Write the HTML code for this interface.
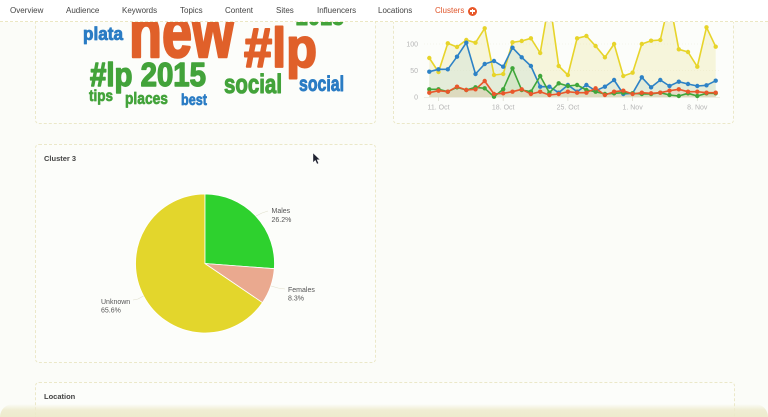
<!DOCTYPE html>
<html><head><meta charset="utf-8">
<style>
*{margin:0;padding:0;box-sizing:border-box}
html,body{width:768px;height:417px;overflow:hidden;background:#fbfcf8;font-family:"Liberation Sans",sans-serif}
#wrap{position:relative;width:768px;height:417px;overflow:hidden;background:#fbfcf8}
.panel{position:absolute;border:1px dashed #ebe8c9;border-radius:4px;background:#fcfdfa}
.nav{position:absolute;left:0;top:0;width:768px;height:22px;background:#fff;border-bottom:1px dashed #ebe7c3;z-index:10}
.nav span{position:absolute;top:6px;font-size:8px;color:#444;white-space:nowrap}
.title{position:absolute;font-size:7.5px;font-weight:bold;color:#444}
</style></head><body>
<div id="wrap">
<div class="panel" style="left:35px;top:0;width:341px;height:124px"></div>
<div class="panel" style="left:393px;top:0;width:341px;height:124px"></div>
<div class="panel" style="left:35px;top:144px;width:341px;height:219px"></div>
<div class="panel" style="left:35px;top:382px;width:700px;height:35px;border-bottom:none;border-radius:4px 4px 0 0"></div>

<svg style="position:absolute;left:0;top:0;z-index:1" width="768" height="417" viewBox="0 0 768 417">
  <g font-family="'Liberation Sans Narrow','Liberation Sans',sans-serif" font-weight="bold" stroke-linejoin="round">
    <text x="296" y="25" font-size="24" fill="#43a33a" stroke="#43a33a" stroke-width="1" textLength="48" lengthAdjust="spacingAndGlyphs">2015</text>
    <text x="129" y="57" font-size="72" fill="#e0602a" stroke="#e0602a" stroke-width="2.5" textLength="105" lengthAdjust="spacingAndGlyphs">new</text>
    <text x="83" y="40" font-size="18" fill="#2a7cc4" stroke="#2a7cc4" stroke-width="0.8" textLength="40" lengthAdjust="spacingAndGlyphs">plata</text>
    <text x="244" y="67" font-size="56" fill="#e0602a" stroke="#e0602a" stroke-width="2" textLength="73" lengthAdjust="spacingAndGlyphs">#lp</text>
    <text x="90" y="86" font-size="33" fill="#43a33a" stroke="#43a33a" stroke-width="1.4" textLength="116" lengthAdjust="spacingAndGlyphs">#lp 2015</text>
    <text x="224" y="93" font-size="27" fill="#43a33a" stroke="#43a33a" stroke-width="1.1" textLength="58" lengthAdjust="spacingAndGlyphs">social</text>
    <text x="299" y="91" font-size="21" fill="#2a7cc4" stroke="#2a7cc4" stroke-width="0.9" textLength="45" lengthAdjust="spacingAndGlyphs">social</text>
    <text x="89" y="101" font-size="16" fill="#43a33a" stroke="#43a33a" stroke-width="0.7" textLength="24" lengthAdjust="spacingAndGlyphs">tips</text>
    <text x="125" y="104" font-size="17" fill="#43a33a" stroke="#43a33a" stroke-width="0.7" textLength="43" lengthAdjust="spacingAndGlyphs">places</text>
    <text x="181" y="105" font-size="16" fill="#2a7cc4" stroke="#2a7cc4" stroke-width="0.7" textLength="26" lengthAdjust="spacingAndGlyphs">best</text>
  </g>

  <!-- line chart -->
  <g font-size="7" fill="#b5b5b5" font-family="'Liberation Sans',sans-serif">
    <line x1="424" y1="44" x2="720" y2="44" stroke="#eeeedd" stroke-width="0.6" stroke-dasharray="1,2"/>
    <line x1="424" y1="70.5" x2="720" y2="70.5" stroke="#eeeedd" stroke-width="0.6" stroke-dasharray="1,2"/>
    <text x="418" y="46.5" text-anchor="end">100</text>
    <text x="418" y="73" text-anchor="end">50</text>
    <text x="418" y="99.5" text-anchor="end">0</text>
    <line x1="424" y1="97.3" x2="720" y2="97.3" stroke="#e4e4d4" stroke-width="0.6"/>
    <g stroke="#d8d8c8" stroke-width="0.7">
      <line x1="438.5" y1="97.3" x2="438.5" y2="101"/>
      <line x1="503.2" y1="97.3" x2="503.2" y2="101"/>
      <line x1="567.9" y1="97.3" x2="567.9" y2="101"/>
      <line x1="632.6" y1="97.3" x2="632.6" y2="101"/>
      <line x1="697.3" y1="97.3" x2="697.3" y2="101"/>
    </g>
    <text x="438.5" y="109.5" text-anchor="middle">11. Oct</text>
    <text x="503.2" y="109.5" text-anchor="middle">18. Oct</text>
    <text x="567.9" y="109.5" text-anchor="middle">25. Oct</text>
    <text x="632.6" y="109.5" text-anchor="middle">1. Nov</text>
    <text x="697.3" y="109.5" text-anchor="middle">8. Nov</text>
  </g>

  <!-- areas -->
  <polygon fill="#ece6a0" fill-opacity="0.35" points="429.3,97 429.3,58 438.5,72 447.8,43.3 457,47 466.3,40 475.5,42.7 484.7,28.3 494,75 503.2,74 512.5,42.3 521.7,41 530.9,38.3 540.2,53 549.4,0 558.7,66 567.9,75 577.1,38.3 586.4,36 595.6,46 604.9,57.3 614.1,44 623.3,76 632.6,72.7 641.8,44 651.1,40.7 660.3,40 669.5,0 678.8,49.3 688,52 697.3,66.7 706.5,27.3 715.7,46.7 715.7,97"/>
  <polygon fill="#cfe2d8" fill-opacity="0.45" points="429.3,97 429.3,71.7 438.5,69.3 447.8,69.3 457,56.7 466.3,42.7 475.5,74 484.7,64 494,61 503.2,66.7 512.5,47.7 521.7,57.3 530.9,66 540.2,86.7 549.4,86.7 558.7,92.7 567.9,85 577.1,91.7 586.4,85 595.6,90.7 604.9,86.7 614.1,80 623.3,94 632.6,93.3 641.8,77.3 651.1,87.3 660.3,80 669.5,86 678.8,81.7 688,84 697.3,86 706.5,85.3 715.7,80.7 715.7,97"/>
  <polygon fill="#bfe0b0" fill-opacity="0.4" points="429.3,97 429.3,89.3 438.5,89.3 447.8,91.7 457,87.3 466.3,90 475.5,87.3 484.7,88.3 494,96.7 503.2,89.3 512.5,68.3 521.7,90 530.9,91.7 540.2,76 549.4,92.7 558.7,83.3 567.9,86 577.1,85 586.4,90 595.6,91.7 604.9,94 614.1,93.3 623.3,92.7 632.6,93.3 641.8,94 651.1,94 660.3,92.7 669.5,95 678.8,96 688,93.3 697.3,96 706.5,93.3 715.7,93.3 715.7,97"/>
  <polygon fill="#e8c8b0" fill-opacity="0.4" points="429.3,97 429.3,92.7 438.5,90.7 447.8,91.7 457,86.7 466.3,90 475.5,89.3 484.7,81 494,94 503.2,93.3 512.5,91.7 521.7,89.3 530.9,94 540.2,91.7 549.4,95 558.7,94 567.9,91.7 577.1,92.7 586.4,92.7 595.6,88.3 604.9,95 614.1,91.7 623.3,90.7 632.6,94 641.8,92.7 651.1,93.3 660.3,92.7 669.5,90.7 678.8,89.3 688,91.7 697.3,91.7 706.5,92.7 715.7,92.7 715.7,97"/>

  <g fill="none" stroke-width="1.6" stroke-linejoin="round" stroke-linecap="round">
    <polyline stroke="#e7d42a" points="429.3,58 438.5,72 447.8,43.3 457,47 466.3,40 475.5,42.7 484.7,28.3 494,75 503.2,74 512.5,42.3 521.7,41 530.9,38.3 540.2,53 549.4,0 558.7,66 567.9,75 577.1,38.3 586.4,36 595.6,46 604.9,57.3 614.1,44 623.3,76 632.6,72.7 641.8,44 651.1,40.7 660.3,40 669.5,0 678.8,49.3 688,52 697.3,66.7 706.5,27.3 715.7,46.7"/>
    <polyline stroke="#2d82c6" points="429.3,71.7 438.5,69.3 447.8,69.3 457,56.7 466.3,42.7 475.5,74 484.7,64 494,61 503.2,66.7 512.5,47.7 521.7,57.3 530.9,66 540.2,86.7 549.4,86.7 558.7,92.7 567.9,85 577.1,91.7 586.4,85 595.6,90.7 604.9,86.7 614.1,80 623.3,94 632.6,93.3 641.8,77.3 651.1,87.3 660.3,80 669.5,86 678.8,81.7 688,84 697.3,86 706.5,85.3 715.7,80.7"/>
    <polyline stroke="#3fa63a" points="429.3,89.3 438.5,89.3 447.8,91.7 457,87.3 466.3,90 475.5,87.3 484.7,88.3 494,96.7 503.2,89.3 512.5,68.3 521.7,90 530.9,91.7 540.2,76 549.4,92.7 558.7,83.3 567.9,86 577.1,85 586.4,90 595.6,91.7 604.9,94 614.1,93.3 623.3,92.7 632.6,93.3 641.8,94 651.1,94 660.3,92.7 669.5,95 678.8,96 688,93.3 697.3,96 706.5,93.3 715.7,93.3"/>
    <polyline stroke="#e9572b" points="429.3,92.7 438.5,90.7 447.8,91.7 457,86.7 466.3,90 475.5,89.3 484.7,81 494,94 503.2,93.3 512.5,91.7 521.7,89.3 530.9,94 540.2,91.7 549.4,95 558.7,94 567.9,91.7 577.1,92.7 586.4,92.7 595.6,88.3 604.9,95 614.1,91.7 623.3,90.7 632.6,94 641.8,92.7 651.1,93.3 660.3,92.7 669.5,90.7 678.8,89.3 688,91.7 697.3,91.7 706.5,92.7 715.7,92.7"/>
  </g>
  <g fill="#e7d42a">
    <circle cx="429.3" cy="58" r="2.2"/><circle cx="438.5" cy="72" r="2.2"/><circle cx="447.8" cy="43.3" r="2.2"/><circle cx="457" cy="47" r="2.2"/><circle cx="466.3" cy="40" r="2.2"/><circle cx="475.5" cy="42.7" r="2.2"/><circle cx="484.7" cy="28.3" r="2.2"/><circle cx="494" cy="75" r="2.2"/><circle cx="503.2" cy="74" r="2.2"/><circle cx="512.5" cy="42.3" r="2.2"/><circle cx="521.7" cy="41" r="2.2"/><circle cx="530.9" cy="38.3" r="2.2"/><circle cx="540.2" cy="53" r="2.2"/><circle cx="558.7" cy="66" r="2.2"/><circle cx="567.9" cy="75" r="2.2"/><circle cx="577.1" cy="38.3" r="2.2"/><circle cx="586.4" cy="36" r="2.2"/><circle cx="595.6" cy="46" r="2.2"/><circle cx="604.9" cy="57.3" r="2.2"/><circle cx="614.1" cy="44" r="2.2"/><circle cx="623.3" cy="76" r="2.2"/><circle cx="632.6" cy="72.7" r="2.2"/><circle cx="641.8" cy="44" r="2.2"/><circle cx="651.1" cy="40.7" r="2.2"/><circle cx="660.3" cy="40" r="2.2"/><circle cx="678.8" cy="49.3" r="2.2"/><circle cx="688" cy="52" r="2.2"/><circle cx="697.3" cy="66.7" r="2.2"/><circle cx="706.5" cy="27.3" r="2.2"/><circle cx="715.7" cy="46.7" r="2.2"/>
  </g>
  <g fill="#2d82c6">
    <circle cx="429.3" cy="71.7" r="2.2"/><circle cx="438.5" cy="69.3" r="2.2"/><circle cx="447.8" cy="69.3" r="2.2"/><circle cx="457" cy="56.7" r="2.2"/><circle cx="466.3" cy="42.7" r="2.2"/><circle cx="475.5" cy="74" r="2.2"/><circle cx="484.7" cy="64" r="2.2"/><circle cx="494" cy="61" r="2.2"/><circle cx="503.2" cy="66.7" r="2.2"/><circle cx="512.5" cy="47.7" r="2.2"/><circle cx="521.7" cy="57.3" r="2.2"/><circle cx="530.9" cy="66" r="2.2"/><circle cx="540.2" cy="86.7" r="2.2"/><circle cx="549.4" cy="86.7" r="2.2"/><circle cx="558.7" cy="92.7" r="2.2"/><circle cx="567.9" cy="85" r="2.2"/><circle cx="577.1" cy="91.7" r="2.2"/><circle cx="586.4" cy="85" r="2.2"/><circle cx="595.6" cy="90.7" r="2.2"/><circle cx="604.9" cy="86.7" r="2.2"/><circle cx="614.1" cy="80" r="2.2"/><circle cx="623.3" cy="94" r="2.2"/><circle cx="632.6" cy="93.3" r="2.2"/><circle cx="641.8" cy="77.3" r="2.2"/><circle cx="651.1" cy="87.3" r="2.2"/><circle cx="660.3" cy="80" r="2.2"/><circle cx="669.5" cy="86" r="2.2"/><circle cx="678.8" cy="81.7" r="2.2"/><circle cx="688" cy="84" r="2.2"/><circle cx="697.3" cy="86" r="2.2"/><circle cx="706.5" cy="85.3" r="2.2"/><circle cx="715.7" cy="80.7" r="2.2"/>
  </g>
  <g fill="#3fa63a">
    <circle cx="429.3" cy="89.3" r="2.2"/><circle cx="438.5" cy="89.3" r="2.2"/><circle cx="447.8" cy="91.7" r="2.2"/><circle cx="457" cy="87.3" r="2.2"/><circle cx="466.3" cy="90" r="2.2"/><circle cx="475.5" cy="87.3" r="2.2"/><circle cx="484.7" cy="88.3" r="2.2"/><circle cx="494" cy="96.7" r="2.2"/><circle cx="503.2" cy="89.3" r="2.2"/><circle cx="512.5" cy="68.3" r="2.2"/><circle cx="521.7" cy="90" r="2.2"/><circle cx="530.9" cy="91.7" r="2.2"/><circle cx="540.2" cy="76" r="2.2"/><circle cx="549.4" cy="92.7" r="2.2"/><circle cx="558.7" cy="83.3" r="2.2"/><circle cx="567.9" cy="86" r="2.2"/><circle cx="577.1" cy="85" r="2.2"/><circle cx="586.4" cy="90" r="2.2"/><circle cx="595.6" cy="91.7" r="2.2"/><circle cx="604.9" cy="94" r="2.2"/><circle cx="614.1" cy="93.3" r="2.2"/><circle cx="623.3" cy="92.7" r="2.2"/><circle cx="632.6" cy="93.3" r="2.2"/><circle cx="641.8" cy="94" r="2.2"/><circle cx="651.1" cy="94" r="2.2"/><circle cx="660.3" cy="92.7" r="2.2"/><circle cx="669.5" cy="95" r="2.2"/><circle cx="678.8" cy="96" r="2.2"/><circle cx="688" cy="93.3" r="2.2"/><circle cx="697.3" cy="96" r="2.2"/><circle cx="706.5" cy="93.3" r="2.2"/><circle cx="715.7" cy="93.3" r="2.2"/>
  </g>
  <g fill="#e9572b">
    <circle cx="429.3" cy="92.7" r="2.2"/><circle cx="438.5" cy="90.7" r="2.2"/><circle cx="447.8" cy="91.7" r="2.2"/><circle cx="457" cy="86.7" r="2.2"/><circle cx="466.3" cy="90" r="2.2"/><circle cx="475.5" cy="89.3" r="2.2"/><circle cx="484.7" cy="81" r="2.2"/><circle cx="494" cy="94" r="2.2"/><circle cx="503.2" cy="93.3" r="2.2"/><circle cx="512.5" cy="91.7" r="2.2"/><circle cx="521.7" cy="89.3" r="2.2"/><circle cx="530.9" cy="94" r="2.2"/><circle cx="540.2" cy="91.7" r="2.2"/><circle cx="549.4" cy="95" r="2.2"/><circle cx="558.7" cy="94" r="2.2"/><circle cx="567.9" cy="91.7" r="2.2"/><circle cx="577.1" cy="92.7" r="2.2"/><circle cx="586.4" cy="92.7" r="2.2"/><circle cx="595.6" cy="88.3" r="2.2"/><circle cx="604.9" cy="95" r="2.2"/><circle cx="614.1" cy="91.7" r="2.2"/><circle cx="623.3" cy="90.7" r="2.2"/><circle cx="632.6" cy="94" r="2.2"/><circle cx="641.8" cy="92.7" r="2.2"/><circle cx="651.1" cy="93.3" r="2.2"/><circle cx="660.3" cy="92.7" r="2.2"/><circle cx="669.5" cy="90.7" r="2.2"/><circle cx="678.8" cy="89.3" r="2.2"/><circle cx="688" cy="91.7" r="2.2"/><circle cx="697.3" cy="91.7" r="2.2"/><circle cx="706.5" cy="92.7" r="2.2"/><circle cx="715.7" cy="92.7" r="2.2"/>
  </g>

  <!-- pie -->
  <g stroke="#ffffff" stroke-width="0.8" stroke-linejoin="round">
    <path d="M205,263.5 L262.5,302.6 A69.5,69.5 0 1 1 205,194 Z" fill="#e3d62c"/>
    <path d="M205,263.5 L205,194 A69.5,69.5 0 0 1 274.3,268.7 Z" fill="#2ed12e"/>
    <path d="M205,263.5 L274.3,268.7 A69.5,69.5 0 0 1 262.5,302.6 Z" fill="#eaa98f"/>
  </g>
  <g stroke="#e0dfcc" stroke-width="0.6" fill="none">
    <path d="M256,216 L262,213 L268,211"/>
    <path d="M271,286 L278,288 L285,289"/>
    <path d="M143.5,296 L138,299 L133,300"/>
  </g>
  <g font-size="7" fill="#555" font-family="'Liberation Sans',sans-serif">
    <text x="271.5" y="213">Males</text>
    <text x="271.5" y="222">26.2%</text>
    <text x="288" y="292">Females</text>
    <text x="288" y="300.5">8.3%</text>
    <text x="101" y="304">Unknown</text>
    <text x="101" y="312.5">65.6%</text>
  </g>
  <polygon points="313,153 313,162.5 315.3,160.3 317,164 318.6,163.3 317,159.7 320,159.7" fill="#1f2230" stroke="#fff" stroke-width="0.4"/>
</svg>

<div class="title" style="left:44px;top:154px;z-index:2">Cluster 3</div>
<div class="title" style="left:44px;top:392px;z-index:2">Location</div>

<div style="position:absolute;left:0;top:404px;width:768px;height:13px;z-index:3;background:linear-gradient(to bottom,rgba(238,235,205,0),rgba(238,235,205,0.85) 45%,rgba(236,233,200,0.9));border-radius:20px 20px 0 0"></div>

<div class="nav">
  <span style="left:10px">Overview</span>
  <span style="left:66px">Audience</span>
  <span style="left:122px">Keywords</span>
  <span style="left:180px">Topics</span>
  <span style="left:225px">Content</span>
  <span style="left:276px">Sites</span>
  <span style="left:317px">Influencers</span>
  <span style="left:378px">Locations</span>
  <span style="left:435px;color:#e0552a">Clusters</span>
  <div style="position:absolute;left:468px;top:6.5px;width:9px;height:9px;border-radius:50%;background:#e8582a">
    <div style="position:absolute;left:3.85px;top:2px;width:1.3px;height:5px;background:#fff"></div>
    <div style="position:absolute;left:2px;top:3.85px;width:5px;height:1.3px;background:#fff"></div>
  </div>
</div>
</div>
</body></html>
